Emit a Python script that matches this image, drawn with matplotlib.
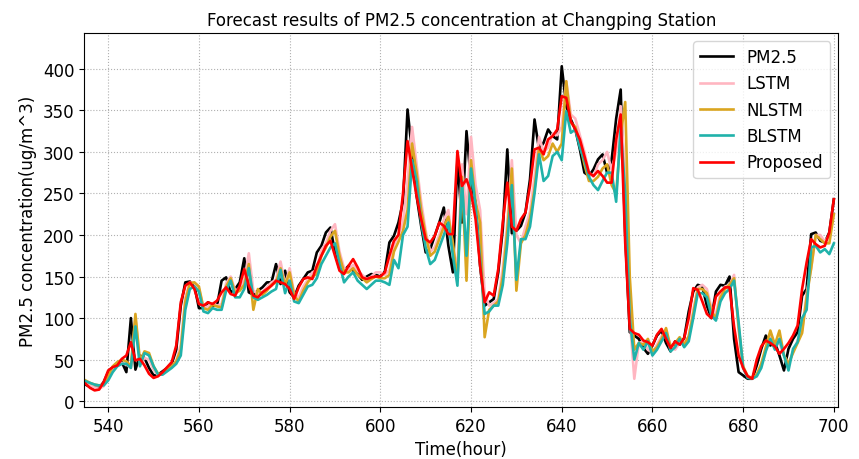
import numpy as np
import matplotlib
matplotlib.use("Agg")
from matplotlib import pyplot as plt

# hours on the x axis
hours = np.arange(535, 701)

# observed PM2.5
pm25 = [20, 17, 16, 16, 23, 35, 41, 45, 47, 35,
        100, 38, 55, 52, 40, 31, 32, 36, 40, 45,
        62, 115, 143, 144, 139, 112, 112, 119, 115, 115,
        145, 149, 131, 135, 143, 172, 131, 128, 133, 137,
        143, 143, 165, 141, 157, 131, 125, 139, 147, 155,
        157, 179, 187, 203, 209, 179, 159, 157, 163, 157,
        153, 146, 150, 153, 152, 150, 156, 191, 199, 215,
        240, 351, 299, 247, 211, 179, 183, 199, 215, 233,
        187, 155, 290, 215, 325, 263, 239, 163, 115, 119,
        123, 155, 207, 303, 202, 205, 211, 227, 267, 339,
        303, 311, 327, 319, 315, 403, 355, 339, 327, 303,
        275, 271, 279, 291, 297, 275, 290, 340, 375, 200,
        83, 79, 75, 64, 57, 67, 79, 85, 70, 60,
        72, 68, 76, 108, 132, 140, 138, 115, 100, 132,
        140, 139, 150, 75, 35, 31, 27, 27, 43, 63,
        79, 67, 71, 55, 37, 63, 75, 83, 127, 135,
        201, 203, 193, 191, 203, 243]

lstm = [22, 19, 16, 15, 18, 28, 38, 43, 46, 44,
        40, 100, 45, 52, 50, 38, 31, 33, 37, 42,
        48, 68, 125, 143, 142, 135, 113, 114, 118, 115,
        117, 142, 150, 133, 136, 145, 178, 133, 129, 132,
        137, 143, 146, 168, 140, 160, 130, 125, 138, 146,
        155, 158, 182, 190, 205, 213, 180, 160, 158, 164,
        157, 152, 147, 150, 155, 155, 152, 158, 188, 200,
        215, 265, 330, 285, 240, 205, 180, 185, 200, 218,
        230, 185, 160, 285, 225, 318, 260, 230, 130, 115,
        118, 123, 160, 215, 290, 200, 190, 210, 228, 270,
        318, 300, 305, 322, 320, 330, 385, 345, 340, 320,
        300, 275, 270, 285, 290, 300, 278, 300, 355, 270,
        100, 27, 70, 72, 62, 58, 68, 78, 82, 68,
        62, 70, 70, 78, 110, 137, 140, 135, 112, 105,
        130, 138, 140, 152, 85, 40, 30, 28, 30, 45,
        62, 78, 68, 70, 55, 45, 60, 73, 85, 130,
        160, 200, 200, 192, 200, 225]

nlstm = [25, 22, 20, 19, 20, 30, 42, 47, 50, 48,
         42, 105, 48, 60, 58, 42, 33, 33, 38, 42,
         48, 62, 120, 142, 143, 138, 112, 110, 116, 114,
         113, 138, 148, 130, 133, 140, 165, 110, 135, 128,
         133, 140, 143, 160, 140, 155, 127, 120, 133, 143,
         150, 153, 175, 185, 198, 205, 175, 155, 155, 160,
         152, 148, 143, 147, 150, 148, 148, 152, 180, 192,
         205, 230, 310, 275, 230, 200, 175, 180, 195, 210,
         222, 190, 145, 270, 145, 290, 240, 215, 77, 110,
         115, 120, 150, 205, 280, 133, 190, 200, 220, 255,
         305, 290, 295, 310, 300, 310, 385, 335, 330, 310,
         285, 265, 265, 270, 280, 285, 260, 250, 320, 360,
         150, 62, 70, 68, 75, 60, 65, 75, 88, 65,
         70, 77, 68, 78, 105, 135, 135, 130, 108, 100,
         125, 135, 140, 148, 90, 42, 30, 28, 32, 45,
         65, 85, 68, 85, 55, 45, 58, 70, 82, 125,
         160, 200, 195, 190, 190, 225]

blstm = [24, 22, 20, 19, 19, 25, 35, 42, 45, 45,
         40, 90, 42, 58, 55, 42, 32, 32, 36, 40,
         45, 55, 110, 135, 138, 132, 108, 106, 112, 110,
         110, 133, 145, 125, 125, 135, 160, 125, 122, 125,
         128, 132, 135, 158, 130, 145, 120, 118, 128, 138,
         140, 148, 165, 175, 185, 190, 165, 143, 150, 155,
         145, 140, 135, 140, 145, 145, 143, 140, 170, 160,
         200, 210, 290, 265, 215, 185, 165, 170, 185, 200,
         215, 175, 139, 265, 175, 280, 235, 170, 105, 108,
         115, 115, 140, 190, 260, 146, 195, 195, 210, 250,
         297, 265, 271, 295, 300, 290, 349, 323, 327, 305,
         290, 270, 260, 254, 265, 275, 275, 240, 330, 250,
         100, 50, 70, 62, 72, 55, 62, 72, 82, 60,
         65, 75, 65, 72, 100, 130, 130, 125, 103, 97,
         120, 130, 135, 145, 95, 40, 28, 27, 30, 40,
         60, 75, 62, 75, 55, 37, 63, 71, 100, 110,
         185, 187, 179, 183, 177, 190]

proposed = [21, 16, 13, 14, 23, 37, 41, 43, 51, 55,
            71, 49, 51, 43, 33, 28, 30, 35, 41, 47,
            67, 119, 139, 143, 135, 117, 115, 119, 117, 121,
            131, 137, 129, 127, 139, 159, 139, 127, 125, 131,
            135, 139, 145, 143, 141, 135, 123, 137, 147, 149,
            147, 163, 175, 187, 193, 175, 157, 153, 163, 171,
            161, 149, 147, 149, 150, 150, 155, 175, 193, 200,
            250, 313, 279, 247, 219, 195, 191, 199, 215, 211,
            201, 201, 301, 259, 267, 251, 219, 163, 119, 131,
            127, 159, 215, 263, 210, 205, 219, 227, 259, 303,
            305, 297, 315, 319, 327, 367, 365, 337, 327, 315,
            295, 275, 271, 277, 271, 263, 263, 315, 345, 190,
            87, 82, 80, 73, 71, 67, 80, 87, 75, 64,
            72, 68, 76, 100, 136, 134, 120, 105, 100, 126,
            132, 137, 137, 90, 55, 40, 30, 27, 50, 66,
            73, 70, 66, 57, 63, 70, 79, 91, 135, 167,
            195, 189, 185, 187, 203, 243]

names = ['PM2.5', 'LSTM', 'NLSTM', 'BLSTM', 'Proposed']
colors = ['black', 'lightpink', 'goldenrod', 'lightseagreen', 'red']

fig = plt.figure(figsize=(8.59, 4.6), dpi=100)
ax = fig.add_axes([0.098, 0.113, 0.878, 0.813])

for series, name, c in zip([pm25, lstm, nlstm, blstm, proposed], names, colors):
    ax.plot(hours, series, color=c, lw=1.9, label=name)

ax.set_xlim(534.7, 701)
ax.set_ylim(-7, 443)
ax.set_xticks(np.arange(540, 701, 20))
ax.set_yticks(np.arange(0, 401, 50))
ax.tick_params(labelsize=12)
ax.grid(True, linestyle=':', color='#b0b0b0', lw=0.8)

ax.set_title('Forecast results of PM2.5 concentration at Changping Station', fontsize=12)
ax.set_xlabel('Time(hour)', fontsize=12)
ax.set_ylabel('PM2.5 concentration(ug/m^3)', fontsize=12)
ax.legend(loc='upper right', fontsize=12)

fig.savefig('out.png', dpi=100)
